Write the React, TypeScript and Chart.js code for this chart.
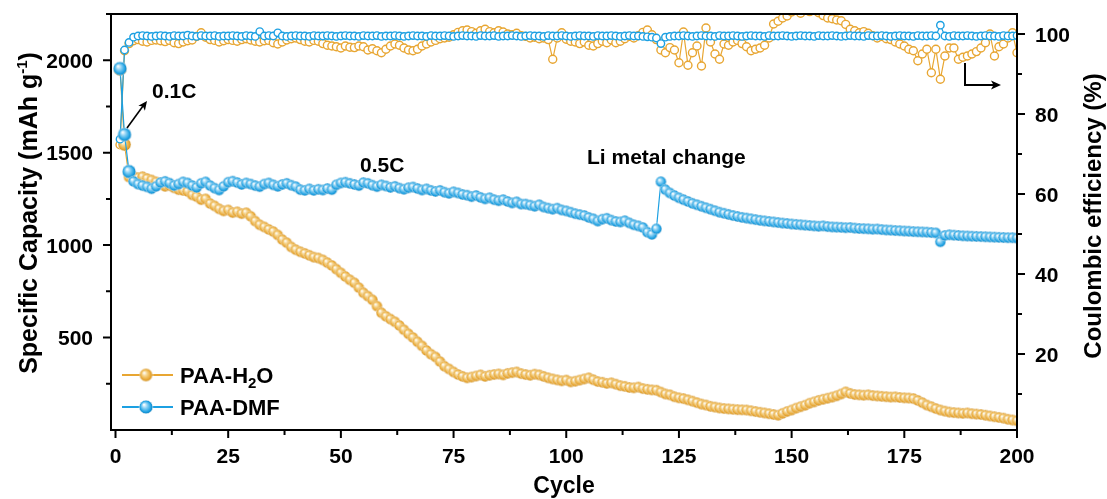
import React, { useEffect, useRef } from 'react';
import { Chart, registerables } from 'chart.js';
Chart.register(...registerables);

// ---------------- data ----------------
const cycles = Array.from({ length: 200 }, (_, i) => i + 1);

const capH2O = [
  1950, 1544, 1368, 1372, 1365, 1370, 1360, 1352, 1342, 1335,
  1318, 1322, 1310, 1300, 1296, 1290, 1272, 1262, 1246, 1250,
  1225, 1212, 1196, 1185, 1190, 1176, 1180, 1170, 1175, 1156,
  1130, 1110, 1098, 1085, 1073, 1055, 1030, 1013, 990, 975,
  964, 955, 945, 935, 930, 920, 905, 890, 870, 850,
  830, 812, 796, 770, 742, 724, 704, 670, 634, 615,
  600, 585, 565, 542, 520, 500, 477, 455, 430, 410,
  395, 370, 345, 330, 314, 300, 290, 282, 286, 292,
  298, 290, 296, 300, 303, 298, 306, 310, 314, 305,
  300, 296, 302, 298, 290, 282, 276, 271, 266, 270,
  260, 264, 270, 276, 282, 272, 262, 258, 252, 255,
  248, 240, 236, 230, 228, 232, 224, 220, 217, 215,
  205, 195, 190, 180, 174, 170, 163, 156, 148, 140,
  135, 128, 124, 119, 116, 114, 112, 110, 109, 108,
  104, 100, 96, 92, 88, 84, 80, 90, 100, 108,
  118, 126, 134, 145, 152, 160, 166, 172, 178, 185,
  195, 206, 198, 192, 190, 188, 190, 186, 184, 182,
  180, 178, 179, 176, 174, 173, 170, 160, 148, 135,
  126, 116, 108, 102, 97, 94, 92, 90, 92, 88,
  86, 84, 80, 76, 72, 68, 64, 58, 54, 50,
];

const capDMF = [
  1955, 1598, 1398, 1345, 1330, 1322, 1315, 1305, 1318, 1338,
  1345, 1335, 1322, 1330, 1342, 1336, 1322, 1312, 1334, 1342,
  1322, 1308, 1298, 1318, 1340, 1346, 1338, 1328, 1336, 1330,
  1322, 1316, 1330, 1336, 1326, 1318, 1328, 1334, 1324, 1316,
  1300, 1296, 1304, 1296, 1302, 1298, 1306, 1300, 1326, 1336,
  1340, 1334, 1328, 1322, 1338, 1334, 1324, 1316, 1326, 1320,
  1312, 1318, 1308, 1302, 1310, 1314, 1306, 1298, 1304, 1296,
  1290, 1296, 1286, 1280, 1288, 1282, 1274, 1270, 1262, 1268,
  1258, 1250, 1256, 1246, 1240, 1246, 1236, 1228, 1234, 1222,
  1222, 1216, 1210, 1218, 1206, 1200, 1194, 1200, 1190, 1185,
  1178, 1170, 1165, 1160, 1150, 1142, 1130, 1140, 1145, 1135,
  1128, 1125, 1132, 1120, 1110, 1104, 1095, 1070, 1058, 1088,
  1343, 1300, 1282, 1268, 1256, 1246, 1236, 1226, 1218, 1210,
  1202, 1194, 1186, 1178, 1172, 1166, 1160, 1155, 1150, 1146,
  1142, 1138, 1134, 1131, 1128, 1125, 1122, 1119, 1117, 1114,
  1112, 1110, 1108, 1106, 1104, 1102, 1104, 1100, 1098, 1097,
  1096, 1094, 1095, 1092, 1090, 1089, 1088, 1086, 1087, 1084,
  1082, 1081, 1079, 1078, 1076, 1075, 1073, 1072, 1071, 1070,
  1068, 1066, 1018, 1052, 1056, 1054, 1052, 1050, 1049, 1048,
  1047, 1046, 1045, 1044, 1043, 1042, 1041, 1040, 1040, 1038,
];

const ceH2O = [
  72.3, 95.8, 97.6, 98.3, 98.6, 98.2, 98.0, 98.4, 98.5, 98.3,
  98.1, 98.4, 97.8, 97.6, 98.0, 98.3, 98.5, 99.4, 100.3, 99.2,
  98.6, 98.4, 98.0, 98.3, 98.6, 98.4, 98.2, 98.6, 98.8, 98.5,
  98.2, 98.0, 98.3, 98.4, 97.8, 97.5, 98.0, 98.5, 98.8, 99.0,
  98.6, 98.2, 98.0, 98.4, 98.2, 97.6, 97.2, 97.0, 96.8, 96.5,
  97.0, 96.7, 96.6, 97.0, 96.8, 96.0, 96.3, 95.8, 95.3, 96.2,
  97.0, 97.5, 97.2, 96.5, 96.0, 95.8, 96.2, 97.0, 97.5, 98.0,
  98.4, 98.8, 99.0, 99.2, 99.8, 100.4, 100.8, 101.0, 100.6, 100.2,
  100.8, 101.2, 100.6, 100.3, 100.8, 100.5, 100.0, 99.8, 100.2, 99.6,
  99.4, 99.0, 99.2, 98.8, 99.0, 98.6, 93.7, 99.0, 100.3, 98.7,
  98.2, 98.0, 97.6, 98.0, 97.2, 97.0, 97.6, 98.2, 97.8, 98.5,
  97.8, 98.2, 98.8, 99.4, 99.0, 99.6, 100.4, 101.0, 99.8, 98.6,
  96.0, 95.3, 96.6, 96.0, 92.8, 100.5, 92.2, 95.3, 97.0, 92.0,
  101.5, 98.0, 95.0, 93.7, 97.5, 97.2, 98.0, 98.4, 97.6, 96.8,
  95.8, 96.2, 96.5, 97.2, 99.0, 102.5, 103.2, 104.0, 104.5, 105.5,
  106.0, 105.2, 106.2, 105.6, 106.0, 105.3, 104.6, 104.0, 103.8, 103.5,
  103.3, 102.4, 101.2, 100.8, 100.3, 100.6, 100.2, 99.6, 99.0, 99.4,
  98.8, 98.6, 98.0, 97.5, 97.0, 96.2, 95.8, 93.3, 95.0, 96.2,
  90.3, 96.2, 88.7, 94.5, 96.5, 96.5, 93.7, 94.2, 94.5, 95.0,
  95.6, 96.5, 97.8, 100.0, 94.5, 96.8, 97.5, 99.0, 100.3, 95.3,
];

const ceDMF = [
  73.7, 96.0, 97.9, 99.2, 99.5, 99.6, 99.5, 99.4, 99.5, 99.6,
  99.5, 99.4, 99.6, 99.5, 99.5, 99.7, 99.5, 99.4, 99.6, 99.5,
  99.5, 99.6, 99.4, 99.5, 99.5, 99.6, 99.5, 99.4, 99.6, 99.5,
  99.4, 100.6, 99.5, 99.6, 99.5, 100.3, 99.5, 99.4, 99.5, 99.6,
  99.5, 99.5, 99.4, 99.6, 99.5, 99.5, 99.6, 99.5, 99.4, 99.5,
  99.6, 99.5, 99.5, 99.4, 99.6, 99.5, 99.5, 99.6, 99.4, 99.5,
  99.5, 99.6, 99.5, 99.4, 99.5, 99.6, 99.5, 99.5, 99.4, 99.6,
  99.5, 99.5, 99.6, 99.5, 99.4, 99.5, 99.6, 99.5, 99.5, 99.4,
  99.6, 99.5, 99.5, 99.6, 99.4, 99.5, 99.5, 99.6, 99.5, 99.4,
  99.5, 99.6, 99.5, 99.5, 99.4, 99.6, 99.5, 99.5, 99.6, 99.5,
  99.4, 99.5, 99.6, 99.5, 99.5, 99.4, 99.6, 99.5, 99.5, 99.6,
  99.5, 99.4, 99.5, 99.6, 99.5, 99.5, 99.4, 99.3, 99.2, 99.0,
  97.6, 99.2, 99.4, 99.5, 99.5, 99.6, 99.5, 99.4, 99.5, 99.6,
  99.5, 99.5, 99.4, 99.6, 99.5, 99.5, 99.6, 99.5, 99.4, 99.5,
  99.6, 99.5, 99.5, 99.4, 99.6, 99.5, 99.5, 99.6, 99.5, 99.4,
  99.5, 99.6, 99.5, 99.5, 99.4, 99.6, 99.5, 99.5, 99.6, 99.5,
  99.4, 99.5, 99.6, 99.5, 99.5, 99.4, 99.6, 99.5, 99.5, 99.6,
  99.5, 99.4, 99.5, 99.6, 99.5, 99.5, 99.4, 99.6, 99.5, 99.5,
  99.6, 99.5, 102.2, 99.5, 99.4, 99.6, 99.5, 99.5, 99.6, 99.5,
  99.4, 99.5, 99.6, 99.5, 99.5, 99.4, 99.6, 99.5, 99.5, 99.6,
];

const xTickValues = [0, 25, 50, 75, 100, 125, 150, 175, 200];
const xMinorTicks = [12.5, 37.5, 62.5, 87.5, 112.5, 137.5, 162.5, 187.5];
const yTickValues = [500, 1000, 1500, 2000];
const yMinorTicks = [250, 750, 1250, 1750, 2250];
const y1TickValues = [20, 40, 60, 80, 100];
const y1MinorTicks = [10, 30, 50, 70, 90];

const ORANGE = '#E8A632';
const BLUE = '#1CA0E2';
const FONT = '"Liberation Sans", Arial, sans-serif';

function makeBall(base: string, light: string, dark: string, r: number) {
  const s = Math.ceil(2 * r + 2);
  const c = document.createElement('canvas');
  c.width = s;
  c.height = s;
  const g = c.getContext('2d')!;
  const cx = s / 2, cy = s / 2;
  const grad = g.createRadialGradient(cx - r * 0.3, cy - r * 0.35, r * 0.05, cx, cy, r);
  grad.addColorStop(0, '#ffffff');
  grad.addColorStop(0.35, light);
  grad.addColorStop(0.8, base);
  grad.addColorStop(1, dark);
  g.beginPath();
  g.arc(cx, cy, r, 0, Math.PI * 2);
  g.fillStyle = grad;
  g.fill();
  g.lineWidth = 0.8;
  g.strokeStyle = 'rgba(255,255,255,0.6)';
  g.stroke();
  return c;
}

function arrowHead(ctx: CanvasRenderingContext2D, x: number, y: number, ang: number, size: number) {
  ctx.save();
  ctx.translate(x, y);
  ctx.rotate(ang);
  ctx.beginPath();
  ctx.moveTo(0, 0);
  ctx.lineTo(-size, -size * 0.45);
  ctx.lineTo(-size * 0.75, 0);
  ctx.lineTo(-size, size * 0.45);
  ctx.closePath();
  ctx.fill();
  ctx.restore();
}

export default function App() {
  const ref = useRef<HTMLCanvasElement | null>(null);

  useEffect(() => {
    const canvas = ref.current!;
    const ballO = makeBall(ORANGE, '#F6D48A', '#C88A1C', 5.4);
    const ballB = makeBall(BLUE, '#8FD3F5', '#0F7FBC', 5.4);
    const ballOBig = makeBall(ORANGE, '#F6D48A', '#C88A1C', 6.5);
    const ballBBig = makeBall(BLUE, '#8FD3F5', '#0F7FBC', 6.8);

    const decor = {
      id: 'decor',
      afterDraw(chart: any) {
        const ctx: CanvasRenderingContext2D = chart.ctx;
        const { left, right, top, bottom } = chart.chartArea;
        const xs = chart.scales.x, ys = chart.scales.y, y1 = chart.scales.y1;
        ctx.save();
        // frame
        ctx.strokeStyle = '#000';
        ctx.lineWidth = 2;
        ctx.strokeRect(left, top, right - left, bottom - top);
        // ticks
        ctx.beginPath();
        xTickValues.forEach(v => { const p = xs.getPixelForValue(v); ctx.moveTo(p, bottom); ctx.lineTo(p, bottom + 8); });
        xMinorTicks.forEach(v => { const p = xs.getPixelForValue(v); ctx.moveTo(p, bottom); ctx.lineTo(p, bottom + 5); });
        yTickValues.forEach(v => { const p = ys.getPixelForValue(v); ctx.moveTo(left, p); ctx.lineTo(left - 8, p); });
        yMinorTicks.forEach(v => { const p = ys.getPixelForValue(v); ctx.moveTo(left, p); ctx.lineTo(left - 5, p); });
        y1TickValues.forEach(v => { const p = y1.getPixelForValue(v); ctx.moveTo(right, p); ctx.lineTo(right + 8, p); });
        y1MinorTicks.forEach(v => { const p = y1.getPixelForValue(v); ctx.moveTo(right, p); ctx.lineTo(right + 5, p); });
        ctx.stroke();

        // tick labels
        ctx.fillStyle = '#000';
        ctx.font = `bold 21px ${FONT}`;
        ctx.textBaseline = 'alphabetic';
        ctx.textAlign = 'center';
        xTickValues.forEach(v => ctx.fillText(String(v), xs.getPixelForValue(v), bottom + 33));
        ctx.textAlign = 'right';
        yTickValues.forEach(v => ctx.fillText(String(v), left - 18, ys.getPixelForValue(v) + 7.5));
        ctx.textAlign = 'left';
        y1TickValues.forEach(v => ctx.fillText(String(v), right + 18, y1.getPixelForValue(v) + 7.5));

        // x title
        ctx.font = `bold 23px ${FONT}`;
        ctx.textAlign = 'center';
        ctx.fillText('Cycle', (left + right) / 2, 493);

        // left title
        ctx.save();
        ctx.translate(37, 213);
        ctx.rotate(-Math.PI / 2);
        const tf = `bold 25px ${FONT}`;
        const sf = `bold 15px ${FONT}`;
        ctx.font = tf;
        const p1 = 'Specific Capacity (mAh g';
        const p3 = ')';
        const w1 = ctx.measureText(p1).width;
        const w3 = ctx.measureText(p3).width;
        ctx.font = sf;
        const p2 = '-1';
        const w2 = ctx.measureText(p2).width;
        const total = w1 + w2 + w3;
        let cx = -total / 2;
        ctx.textAlign = 'left';
        ctx.font = tf;
        ctx.fillText(p1, cx, 0);
        cx += w1;
        ctx.font = sf;
        ctx.fillText(p2, cx, -10);
        cx += w2;
        ctx.font = tf;
        ctx.fillText(p3, cx, 0);
        ctx.restore();

        // right title
        ctx.save();
        ctx.translate(1101, 216);
        ctx.rotate(-Math.PI / 2);
        ctx.font = `bold 24px ${FONT}`;
        ctx.textAlign = 'center';
        ctx.fillText('Coulombic efficiency (%)', 0, 0);
        ctx.restore();

        // annotations
        ctx.font = `bold 21px ${FONT}`;
        ctx.textAlign = 'left';
        ctx.fillText('0.1C', 152, 98);
        ctx.fillText('0.5C', 360, 172);
        ctx.fillText('Li metal change', 587, 164);

        ctx.strokeStyle = '#000';
        ctx.lineWidth = 1.6;
        ctx.beginPath();
        ctx.moveTo(127, 128);
        ctx.lineTo(143, 106);
        ctx.stroke();
        arrowHead(ctx, 147, 101, Math.atan2(101 - 128, 147 - 127), 9);

        ctx.lineWidth = 2;
        ctx.beginPath();
        ctx.moveTo(965, 63);
        ctx.lineTo(965, 85);
        ctx.lineTo(995, 85);
        ctx.stroke();
        arrowHead(ctx, 1001, 85, 0, 10);

        // legend
        const legend = [
          { color: ORANGE, img: ballOBig, y: 375, parts: [['PAA-H', 0], ['2', 1], ['O', 0]] },
          { color: BLUE, img: ballBBig, y: 407, parts: [['PAA-DMF', 0]] },
        ];
        legend.forEach(l => {
          ctx.strokeStyle = l.color;
          ctx.lineWidth = 2;
          ctx.beginPath();
          ctx.moveTo(122, l.y);
          ctx.lineTo(173, l.y);
          ctx.stroke();
          ctx.drawImage(l.img, 146 - l.img.width / 2, l.y - l.img.height / 2);
          let tx = 180;
          ctx.fillStyle = '#000';
          (l.parts as any[]).forEach(([t, sub]) => {
            ctx.font = sub ? `bold 15px ${FONT}` : `bold 22px ${FONT}`;
            ctx.fillText(t, tx, l.y + 8 + (sub ? 5 : 0));
            tx += ctx.measureText(t).width;
          });
        });
        ctx.restore();
      },
    };

    const pts = (arr: number[]) => cycles.map((c, i) => ({ x: c, y: arr[i] }));

    const chart = new Chart(canvas, {
      type: 'line',
      data: {
        datasets: [
          {
            label: 'PAA-DMF',
            data: pts(capDMF),
            yAxisID: 'y',
            borderColor: BLUE,
            borderWidth: 1.2,
            pointStyle: (c: any) => (c.dataIndex < 3 ? ballBBig : ballB),
            order: 0,
          },
          {
            label: 'PAA-DMF CE',
            data: pts(ceDMF),
            yAxisID: 'y1',
            borderColor: BLUE,
            borderWidth: 1.2,
            pointStyle: 'circle',
            pointRadius: 3.7,
            pointBorderWidth: 1.4,
            pointBackgroundColor: '#ffffff',
            pointBorderColor: BLUE,
            order: 1,
          },
          {
            label: 'PAA-H2O',
            data: pts(capH2O),
            yAxisID: 'y',
            borderColor: ORANGE,
            borderWidth: 1.2,
            pointStyle: (c: any) => (c.dataIndex < 2 ? ballOBig : ballO),
            order: 2,
          },
          {
            label: 'PAA-H2O CE',
            data: pts(ceH2O),
            yAxisID: 'y1',
            borderColor: ORANGE,
            borderWidth: 1.2,
            pointStyle: 'circle',
            pointRadius: 4,
            pointBorderWidth: 1.4,
            pointBackgroundColor: '#ffffff',
            pointBorderColor: ORANGE,
            order: 3,
          },
        ] as any,
      },
      options: {
        animation: false,
        responsive: true,
        maintainAspectRatio: false,
        events: [],
        layout: { padding: { left: 111, right: 90, top: 14, bottom: 69 } },
        plugins: { legend: { display: false }, tooltip: { enabled: false } },
        elements: { line: { tension: 0 } },
        scales: {
          x: { type: 'linear', min: -1, max: 200, display: false },
          y: { type: 'linear', min: 0, max: 2250, display: false },
          y1: { type: 'linear', min: 1, max: 105, display: false, position: 'right' },
        },
      } as any,
      plugins: [decor],
    });
    return () => chart.destroy();
  }, []);

  return (
    <div style={{ position: 'fixed', left: 0, top: 0, width: 1107, height: 499, background: '#fff' }}>
      <canvas ref={ref} />
    </div>
  );
}
